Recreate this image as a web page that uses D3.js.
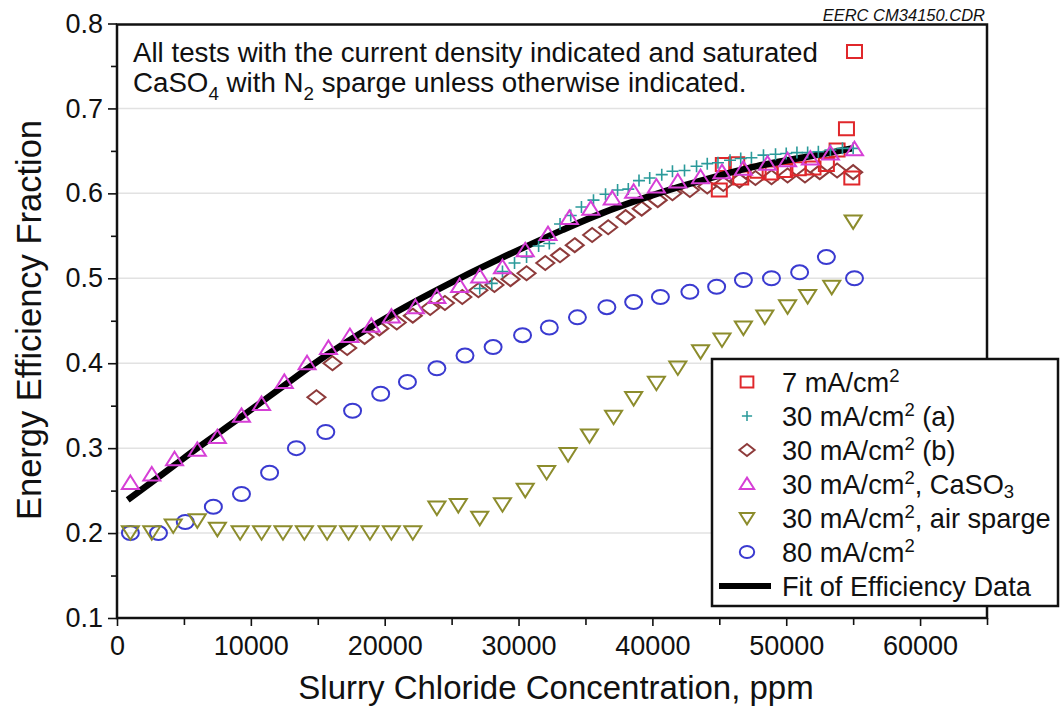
<html>
<head>
<meta charset="utf-8">
<style>
  body { margin: 0; background: #fff; }
  text { font-family: "Liberation Sans", Arial, sans-serif; fill: #111; }
</style>
</head>
<body>
<script src="https://d3js.org/d3.v7.min.js"></script>
<div id="main"></div>
<script>
  // values: [chloride ppm, energy efficiency fraction]
  const ma7 = [
    [45000, 0.604], [45300, 0.634], [46300, 0.635], [46600, 0.618], [47900, 0.626],
    [48800, 0.624], [49900, 0.627], [50900, 0.629], [52000, 0.630], [53000, 0.634],
    [53800, 0.651], [54500, 0.676], [54900, 0.618], [55100, 0.767]
  ];
  const ma30a = [
    [27100, 0.488], [28000, 0.494], [28800, 0.508], [29700, 0.518], [30600, 0.525],
    [31500, 0.538], [32300, 0.541], [33100, 0.564], [33900, 0.574], [34700, 0.584],
    [35600, 0.592], [36500, 0.599], [37400, 0.604], [38200, 0.605], [39000, 0.615],
    [39800, 0.618], [40700, 0.622], [41500, 0.626], [42400, 0.627], [43300, 0.632],
    [44100, 0.635], [44900, 0.636], [45800, 0.639], [46600, 0.641], [47400, 0.642],
    [48300, 0.645], [49200, 0.646], [50000, 0.647], [50800, 0.648], [51600, 0.648],
    [52400, 0.649], [53300, 0.651], [54200, 0.653], [55000, 0.653]
  ];
  const ma30b = [
    [14900, 0.360], [16100, 0.400], [17200, 0.418], [18500, 0.431], [19600, 0.441],
    [20900, 0.448], [22100, 0.456], [23400, 0.465], [24500, 0.471], [25800, 0.478],
    [27000, 0.486], [28200, 0.492], [29400, 0.499], [30600, 0.506], [32000, 0.518],
    [33100, 0.527], [34200, 0.539], [35500, 0.551], [36700, 0.560], [38000, 0.572],
    [39200, 0.582], [40400, 0.592], [41500, 0.600], [42800, 0.604], [44100, 0.608],
    [45300, 0.611], [46500, 0.615], [47700, 0.618], [48900, 0.619], [50100, 0.621],
    [51400, 0.621], [52500, 0.625], [53800, 0.627], [55000, 0.625]
  ];
  const ma30so3 = [
    [1000, 0.259], [2600, 0.269], [4300, 0.287], [6000, 0.298], [7500, 0.313],
    [9300, 0.338], [10800, 0.352], [12500, 0.378], [14200, 0.400], [15800, 0.418],
    [17400, 0.432], [19000, 0.444], [20500, 0.455], [22300, 0.466], [23900, 0.478],
    [25600, 0.491], [27100, 0.502], [28800, 0.513], [30500, 0.533], [32200, 0.552],
    [33800, 0.571], [35400, 0.582], [37000, 0.594], [38600, 0.602], [40300, 0.608],
    [41900, 0.614], [43600, 0.619], [45200, 0.625], [46800, 0.629], [48600, 0.635],
    [50100, 0.639], [51800, 0.641], [53300, 0.647], [55100, 0.652]
  ];
  const ma30air = [
    [1000, 0.201], [2600, 0.201], [4200, 0.209], [6000, 0.215], [7500, 0.205],
    [9200, 0.201], [10800, 0.201], [12400, 0.201], [14000, 0.201], [15700, 0.201],
    [17300, 0.201], [18900, 0.201], [20500, 0.201], [22100, 0.201], [23900, 0.230],
    [25500, 0.233], [27100, 0.218], [28800, 0.234], [30500, 0.251], [32100, 0.272],
    [33700, 0.293], [35300, 0.315], [37100, 0.337], [38600, 0.359], [40300, 0.377],
    [41900, 0.395], [43600, 0.414], [45200, 0.428], [46800, 0.442], [48400, 0.455],
    [50100, 0.467], [51600, 0.479], [53400, 0.490], [55000, 0.567]
  ];
  const ma80 = [
    [1000, 0.200], [3100, 0.200], [5100, 0.213], [7200, 0.231], [9300, 0.246],
    [11400, 0.271], [13400, 0.300], [15600, 0.319], [17600, 0.344], [19700, 0.364],
    [21700, 0.378], [23900, 0.394], [26000, 0.409], [28100, 0.419], [30300, 0.433],
    [32300, 0.442], [34400, 0.454], [36600, 0.466], [38600, 0.472], [40600, 0.478],
    [42800, 0.484], [44800, 0.490], [46800, 0.498], [48900, 0.500], [51000, 0.507],
    [53000, 0.525], [55100, 0.500]
  ];
  const fit = [
    [800, 0.239], [2600, 0.260], [4300, 0.280], [6000, 0.300], [9300, 0.337],
    [12500, 0.374], [15700, 0.410], [20600, 0.458], [25600, 0.500], [30500, 0.537],
    [33300, 0.557], [36300, 0.577], [39300, 0.594], [42300, 0.609], [45000, 0.621],
    [47800, 0.632], [50800, 0.641], [53300, 0.648], [54900, 0.653]
  ];

  const xTicks = [0, 10000, 20000, 30000, 40000, 50000, 60000];
  const xMinor = [5000, 15000, 25000, 35000, 45000, 55000, 65000];
  const yTicks = [0.1, 0.2, 0.3, 0.4, 0.5, 0.6, 0.7, 0.8];
  const yMinor = [0.15, 0.25, 0.35, 0.45, 0.55, 0.65, 0.75];

  const svg = d3.select("#main").append("svg")
    .attr("width", 1062).attr("height", 707);

  const x = d3.scaleLinear().domain([0, 65000]).range([117, 987]);
  const y = d3.scaleLinear().domain([0.1, 0.8]).range([618, 23.5]);

  // light grid at the inner major ticks
  svg.append("g").selectAll("line")
    .data(yTicks.slice(1, -1))
    .join("line")
    .attr("x1", x(0)).attr("x2", x(65000))
    .attr("y1", d => y(d)).attr("y2", d => y(d))
    .attr("stroke", "#e2e2e2").attr("stroke-width", 1.5);

  // axes
  const xAxis = svg.append("g").attr("transform", `translate(0,${y(0.1)})`)
    .call(d3.axisBottom(x).tickValues(xTicks).tickSize(8).tickPadding(10).tickFormat(d3.format("d")));
  svg.append("g").attr("transform", `translate(0,${y(0.1)})`)
    .call(d3.axisBottom(x).tickValues(xMinor).tickSize(7).tickFormat(""));
  const yAxis = svg.append("g").attr("transform", `translate(${x(0)},0)`)
    .call(d3.axisLeft(y).tickValues(yTicks).tickSize(9).tickPadding(5).tickFormat(d3.format(".1f")));
  svg.append("g").attr("transform", `translate(${x(0)},0)`)
    .call(d3.axisLeft(y).tickValues(yMinor).tickSize(6).tickFormat(""));

  svg.selectAll(".domain").remove();
  svg.selectAll(".tick line").attr("stroke", "#111").attr("stroke-width", 1.6);
  xAxis.selectAll("text").attr("font-size", 27).attr("fill", "#111");
  yAxis.selectAll("text").attr("font-size", 27).attr("fill", "#111");

  // plot frame
  svg.append("rect")
    .attr("x", x(0)).attr("y", y(0.8) + 1)
    .attr("width", x(65000) - x(0)).attr("height", y(0.1) - y(0.8) - 1)
    .attr("fill", "none").attr("stroke", "#111").attr("stroke-width", 2.5);

  // marker glyphs
  const shapes = {
    square: "M-7.5,-6.5h15v13h-15z",
    plus: "M-6,0h12M0,-6v12",
    diamond: "M0,-7L9,0L0,7L-9,0Z",
    tri: "M0,-7.5L8.5,6L-8.5,6Z",
    triDown: "M-8.5,-6L8.5,-6L0,7.5Z",
    circle: "M-8.5,0a8.5,7 0 1,0 17,0a8.5,7 0 1,0 -17,0"
  };

  const series = [
    { data: ma80, shape: "circle", color: "#3a3ad0" },
    { data: ma30air, shape: "triDown", color: "#8c8c2c" },
    { data: ma30b, shape: "diamond", color: "#8e3b3b" },
    { data: ma7, shape: "square", color: "#e0272b" },
    { data: fit, line: true },
    { data: ma30a, shape: "plus", color: "#2a9a9a" },
    { data: ma30so3, shape: "tri", color: "#d63fd6" }
  ];

  const line = d3.line().x(d => x(d[0])).y(d => y(d[1])).curve(d3.curveMonotoneX);

  series.forEach(s => {
    if (s.line) {
      svg.append("path").datum(s.data)
        .attr("d", line)
        .attr("fill", "none").attr("stroke", "#000").attr("stroke-width", 6.5);
      return;
    }
    svg.append("g").selectAll("path")
      .data(s.data)
      .join("path")
      .attr("transform", d => `translate(${x(d[0])},${y(d[1])})`)
      .attr("d", shapes[s.shape])
      .attr("fill", "none")
      .attr("stroke", s.color)
      .attr("stroke-width", s.shape === "plus" ? 1.6 : 2);
  });

  // text with sub/superscript parts
  function richText(sel, parts, size, subShift) {
    let shift = 0;
    parts.forEach(p => {
      const t = sel.append("tspan").text(p[0]);
      const want = p[1] === "sup" ? -0.36 * size : p[1] === "sub" ? subShift * size : 0;
      t.attr("dy", want - shift);
      if (p[1]) t.attr("font-size", size * 0.68);
      shift = want;
    });
  }

  // note at top
  const note1 = [["All tests with the current density indicated and saturated"]];
  const note2 = [["CaSO"], ["4", "sub"], [" with N"], ["2", "sub"], [" sparge unless otherwise indicated."]];
  richText(svg.append("text").attr("x", 133).attr("y", 62).attr("font-size", 27.7), note1, 27.7, 0.28);
  richText(svg.append("text").attr("x", 133).attr("y", 92).attr("font-size", 27.7), note2, 27.7, 0.28);

  svg.append("text")
    .attr("x", 985).attr("y", 21)
    .attr("text-anchor", "end")
    .attr("font-size", 16.5).attr("font-style", "italic")
    .attr("fill", "#333")
    .text("EERC CM34150.CDR");

  // axis titles
  svg.append("text")
    .attr("x", 556).attr("y", 699)
    .attr("text-anchor", "middle").attr("font-size", 33)
    .text("Slurry Chloride Concentration, ppm");
  svg.append("text")
    .attr("transform", "translate(41,320) rotate(-90)")
    .attr("text-anchor", "middle").attr("font-size", 34.5)
    .text("Energy Efficiency Fraction");

  // legend
  const legendItems = [
    { shape: "square", color: "#e0272b", parts: [["7 mA/cm"], ["2", "sup"]] },
    { shape: "plus", color: "#2a9a9a", parts: [["30 mA/cm"], ["2", "sup"], [" (a)"]] },
    { shape: "diamond", color: "#8e3b3b", parts: [["30 mA/cm"], ["2", "sup"], [" (b)"]] },
    { shape: "tri", color: "#d63fd6", parts: [["30 mA/cm"], ["2", "sup"], [", CaSO"], ["3", "sub"]] },
    { shape: "triDown", color: "#8c8c2c", parts: [["30 mA/cm"], ["2", "sup"], [", air sparge"]] },
    { shape: "circle", color: "#3a3ad0", parts: [["80 mA/cm"], ["2", "sup"]] },
    { line: true, parts: [["Fit of Efficiency Data"]] }
  ];

  const lg = svg.append("g");
  lg.append("rect")
    .attr("x", 712).attr("y", 359).attr("width", 346).attr("height", 247)
    .attr("fill", "#fff").attr("stroke", "#111").attr("stroke-width", 2.5);

  legendItems.forEach((it, i) => {
    const cy = 382 + i * 34;
    if (it.line) {
      lg.append("line").attr("x1", 719).attr("x2", 771).attr("y1", cy).attr("y2", cy)
        .attr("stroke", "#000").attr("stroke-width", 6);
    } else {
      lg.append("path")
        .attr("transform", `translate(747,${cy}) scale(0.85)`)
        .attr("d", shapes[it.shape])
        .attr("fill", "none").attr("stroke", it.color)
        .attr("stroke-width", it.shape === "plus" ? 1.8 : 2.3);
    }
    richText(lg.append("text").attr("x", 782).attr("y", cy + 9.5).attr("font-size", 27.2), it.parts, 27.2, 0.16);
  });
</script>
</body>
</html>
